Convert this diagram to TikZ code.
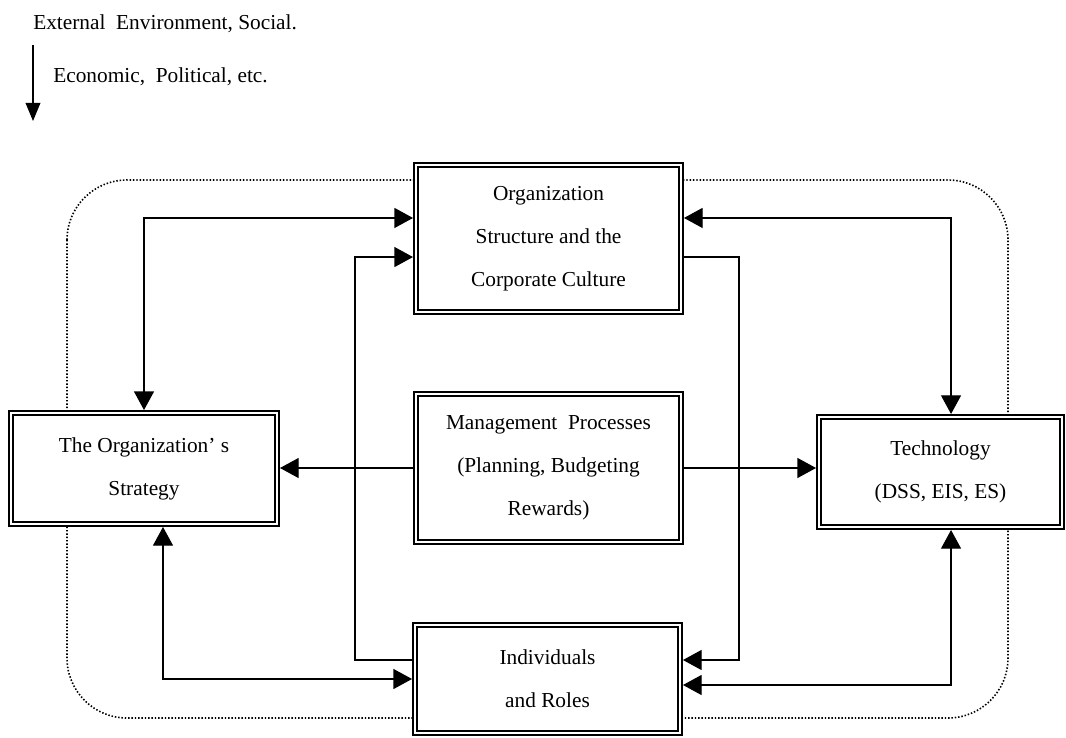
\documentclass[tikz,border=0pt]{standalone}
\usepackage{fontspec}
\setmainfont{Liberation Serif}
\usetikzlibrary{arrows.meta}
\begin{document}
\begin{tikzpicture}[x=0.75pt,y=-0.75pt,
  >={Triangle[length=14pt,width=15pt]},
  box/.style={draw, fill=white, double, double distance=1.3pt, line width=1.7pt,
    outer sep=2.35pt, inner sep=0pt, align=center,
    font=\fontsize{16}{32.25}\selectfont},
  link/.style={line width=0.95pt},
  envtext/.style={inner sep=0pt, anchor=base west, font=\fontsize{16}{19}\selectfont}]
\useasboundingbox (0,0) rectangle (1066,738);

% environment boundary
\draw[line width=1.2pt, dash pattern=on 1.1pt off 1.4pt, rounded corners=45pt]
  (67,180) rectangle (1008,718);

% external environment note
\node[envtext] (ext) at (33,29.5) {External~~Environment, Social.};
\node[envtext] (eco) at (53,83) {Economic,~~Political, etc.};
\coordinate (envtop) at (33,45);
\coordinate (envtip) at (33,121);
\draw[link,-{Triangle[length=13.5pt,width=11pt]}] (envtop) -- (envtip);

% components
\node[box, minimum width=198.5pt, minimum height=110pt] (org) at (548.5,238.5)
  {Organization\\Structure and the\\Corporate Culture};
\node[box, minimum width=199.3pt, minimum height=83pt] (strat) at (144,468.5)
  {The Organization’ s\\Strategy};
\node[box, minimum width=198.5pt, minimum height=110.8pt] (mgmt) at (548.5,468)
  {Management~~Processes\\(Planning, Budgeting\\Rewards)};
\node[box, minimum width=182pt, minimum height=82.3pt] (tech) at (940.5,472)
  {Technology\\(DSS, EIS, ES)};
\node[box, minimum width=198.5pt, minimum height=80.8pt] (indiv) at (547.5,679)
  {Individuals\\and Roles};

% relationships
\draw[link,<->] (strat.north) |- ([yshift=15.4pt]org.west);
\draw[link,->] ([yshift=14.25pt]indiv.west) -- ++(-57,0) |- ([yshift=-13.9pt]org.west);
\draw[link,<->] ([xshift=14.25pt]strat.south) |- (indiv.west);
\draw[link,->] ([yshift=-13.9pt]org.east) -- ++(55,0) |- ([yshift=14.25pt]indiv.east);
\draw[link,<->] ([yshift=15.4pt]org.east) -| ([xshift=7.9pt]tech.north);
\draw[link,<->] ([yshift=-4.5pt]indiv.east) -| ([xshift=7.9pt]tech.south);
\draw[link,->] (mgmt.west) -- (strat.east |- mgmt.west);
\draw[link,->] (mgmt.east) -- (tech.west |- mgmt.east);
\end{tikzpicture}
\end{document}
